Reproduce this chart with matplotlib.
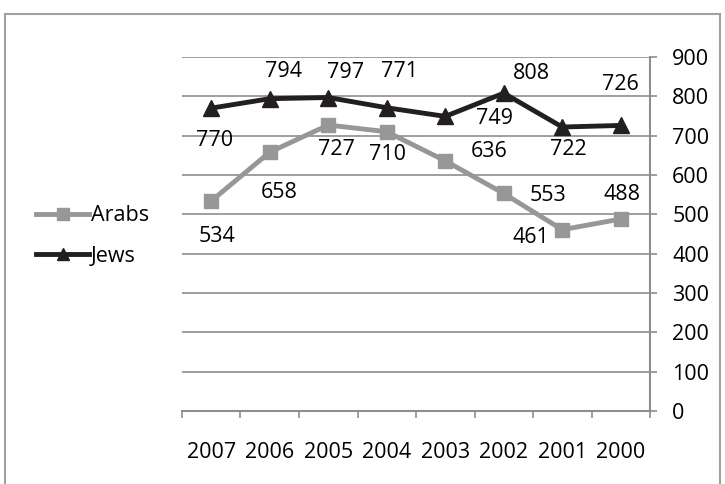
import matplotlib
matplotlib.use('Agg')
import matplotlib.pyplot as plt
import matplotlib.patches as mpatches
from matplotlib.ticker import FixedLocator, NullFormatter

plt.rcParams['font.family'] = ['Open Sans', 'DejaVu Sans']

# data
years = ['2007', '2006', '2005', '2004', '2003', '2002', '2001', '2000']
arabs = [534, 658, 727, 710, 636, 553, 461, 488]
jews = [770, 794, 797, 771, 749, 808, 722, 726]

# label offsets (pixels)
jews_off = [(3, -32), (14, 27), (17, 25), (13, 36), (49, -2), (28, 20), (6, -22), (0, 41)]
arabs_off = [(6, -36), (9, -40), (8, -24), (1, -23), (44, 9), (44, -2), (-31, -8), (1, 25)]

GRAY = '#979797'
BLACK = '#231f20'
GRID = '#8e8e8e'
FS = 15.5

fig = plt.figure(figsize=(7.25, 4.84), dpi=100)
fig.patch.set_facecolor('white')
ax = fig.add_axes([182/725, 1 - 411/484, (650-182)/725, (411-57)/484])

x = list(range(len(years)))
l1, = ax.plot(x, arabs, color=GRAY, lw=3.5, marker='s', ms=10.5, zorder=3, label='Arabs')
l2, = ax.plot(x, jews, color=BLACK, lw=3.5, marker='^', ms=11, zorder=4, label='Jews')

for xi, v, (dx, dy) in zip(x, jews, jews_off):
    ax.annotate(str(v), (xi, v), xytext=(dx, dy), textcoords='offset pixels',
                ha='center', va='center', fontsize=FS, color='black')
for xi, v, (dx, dy) in zip(x, arabs, arabs_off):
    ax.annotate(str(v), (xi, v), xytext=(dx, dy), textcoords='offset pixels',
                ha='center', va='center', fontsize=FS, color='black')

ax.set_xlim(-0.5, 7.5)
ax.set_ylim(0, 900)
ax.set_yticks(range(0, 901, 100))
ax.yaxis.tick_right()
ax.tick_params(axis='y', length=5, width=1.2, color=GRID, pad=11, labelsize=FS)
for t in ax.get_yticklabels():
    t.set_ha('left')

ax.xaxis.set_major_locator(FixedLocator([i - 0.5 for i in range(len(years) + 1)]))
ax.xaxis.set_major_formatter(NullFormatter())
ax.set_xticks(x, years, minor=True)
ax.tick_params(axis='x', which='major', length=5, width=1.2, color=GRID)
ax.tick_params(axis='x', which='minor', length=0, pad=22, labelsize=FS)

ax.grid(axis='y', color=GRID, lw=1.2)
ax.set_axisbelow(True)
for s in ['left', 'top']:
    ax.spines[s].set_visible(False)
for s in ['right', 'bottom']:
    ax.spines[s].set_color(GRID)
    ax.spines[s].set_linewidth(1.5)

fig.legend(handles=[l1, l2], loc='center left', bbox_to_anchor=(27/725, 1 - 236/484),
           frameon=False, fontsize=FS, handlelength=2.5, handletextpad=0.05,
           labelspacing=0.9, borderaxespad=0, markerscale=0.85)

# outer border
fig.patches.append(mpatches.Rectangle((5/725, -0.05), 715/725, 1.05 - 14/484,
                                      transform=fig.transFigure, fill=False,
                                      edgecolor='#a0a0a0', lw=1.5))

plt.savefig('out.png', dpi=100, facecolor='white')
plt.close()
